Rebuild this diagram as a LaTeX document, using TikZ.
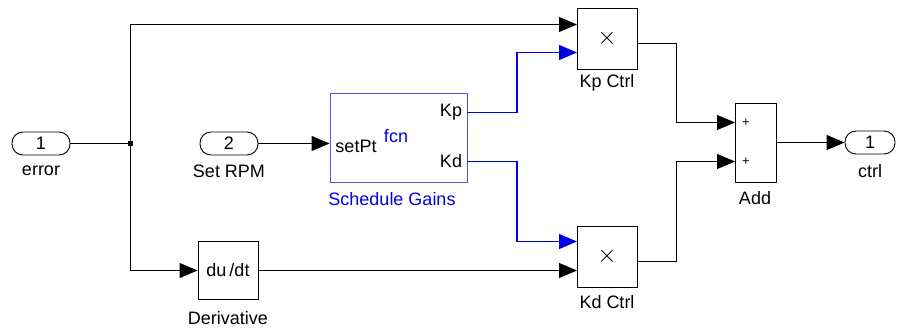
\documentclass[tikz,border=0pt]{standalone}
\usepackage{fontspec}
\setmainfont{Liberation Sans}
\usetikzlibrary{arrows.meta}

\definecolor{sgblue}{RGB}{0,0,225}
\definecolor{sgedge}{RGB}{85,85,225}

\tikzset{
  port/.style={draw, rounded corners=11pt, minimum width=58pt, minimum height=23pt, inner sep=0pt},
  blk/.style={draw, inner sep=0pt},
  sig/.style={-{Triangle[length=18pt,width=15pt]}},
  lbl/.style={inner sep=0pt}
}

\begin{document}
\begin{tikzpicture}[x=1pt,y=-1pt,line width=0.9pt,font=\fontsize{18}{21}\selectfont]
    \useasboundingbox (0,0) rectangle (897,330);
    % Inports
    \node[port] (err) at (41,143.5) {1};
    \node[lbl] (errlbl) at (41,171) {error};
    \node[port] (rpm) at (229,143.5) {2};
    \node[lbl] (rpmlbl) at (229,171) {Set RPM};
    \coordinate (junc) at (130.5,143.5);
    \fill (junc) +(-2.5,-2.5) rectangle +(2.5,2.5);
    % Schedule Gains chart
    \node[blk, draw=sgedge, minimum width=137pt, minimum height=89pt] (sched) at (398.5,137.5) {};
    \node[lbl] (setpt) at (356,146) {setPt};
    \node[lbl, text=sgblue] (fcn) at (396,136) {fcn};
    \node[lbl] (kp) at (451,112) {Kp};
    \node[lbl] (kd) at (451,161) {Kd};
    \node[lbl, text=sgblue] (schedlbl) at (392,199) {Schedule Gains};
    \coordinate (kpout) at (467,112.5);
    \coordinate (kdout) at (467,161.5);
    % Derivative
    \node[blk, minimum width=60pt, minimum height=58pt] (deriv) at (228,270.5) {du\,/dt};
    \node[lbl] (derivlbl) at (228,318) {Derivative};
    % Products
    \node[blk, minimum width=60pt, minimum height=61pt, font=\fontsize{26}{28}\selectfont] (kpctrl) at (607,38.5) {$\times$};
    \node[lbl] (kpctrllbl) at (607,83) {Kp Ctrl};
    \node[blk, minimum width=60pt, minimum height=61pt, font=\fontsize{26}{28}\selectfont] (kdctrl) at (607,256.5) {$\times$};
    \node[lbl] (kdctrllbl) at (607,302) {Kd Ctrl};
    \coordinate (kpin1) at (577,24.5);
    \coordinate (kpin2) at (577,52.5);
    \coordinate (kdin1) at (577,241.5);
    \coordinate (kdin2) at (577,270.5);
    \coordinate (kpctrlout) at (637,43.5);
    \coordinate (kdctrlout) at (637,261.5);
    % Sum
    \node[blk, minimum width=41pt, minimum height=79pt] (add) at (755.5,142.5) {};
    \node[lbl, font=\fontsize{13}{15}\selectfont] (plus1) at (746,123) {+};
    \node[lbl, font=\fontsize{13}{15}\selectfont] (plus2) at (746,162) {+};
    \node[lbl] (addlbl) at (755,198) {Add};
    \coordinate (addin1) at (735,122.5);
    \coordinate (addin2) at (735,161.5);
    \coordinate (addout) at (776,142.5);
    % Outport
    \node[port, minimum width=50pt] (ctrl) at (870,142.5) {1};
    \node[lbl] (ctrllbl) at (870,171) {ctrl};
    % Signals
    \draw (err.east) -- (junc);
    \draw[sig] (junc) |- (kpin1);
    \draw[sig] (junc) |- (deriv.west);
    \draw[sig] (deriv.east) -- (kdin2);
    \draw[sig] (rpm.east) -- (rpm.east -| sched.west);
    \draw[sig, sgblue, line width=1.2pt] (kpout) -- ++(50,0) |- (kpin2);
    \draw[sig, sgblue, line width=1.2pt] (kdout) -- ++(50,0) |- (kdin1);
    \draw[sig] (kpctrlout) -- ++(39,0) |- (addin1);
    \draw[sig] (kdctrlout) -- ++(39,0) |- (addin2);
    \draw[sig] (addout) -- (ctrl.west);
  \end{tikzpicture}
\end{document}
